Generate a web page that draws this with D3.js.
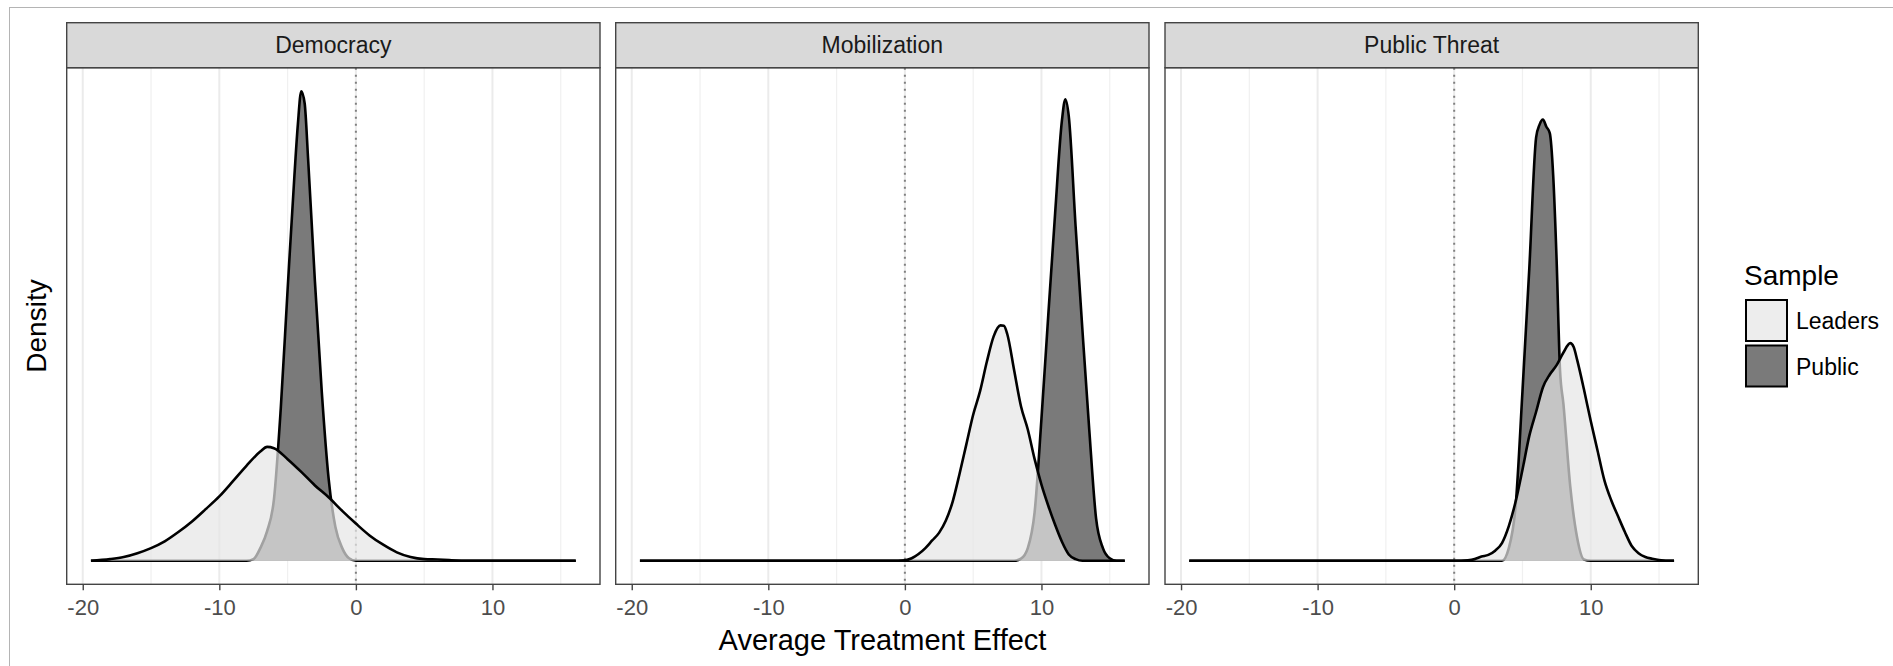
<!DOCTYPE html>
<html>
<head>
<meta charset="utf-8">
<script src="https://cdn.jsdelivr.net/npm/d3@7"></script>
<style>
  body { margin: 0; background: #fff; }
  svg { display: block; }
  text { font-family: "Liberation Sans", Arial, Helvetica, sans-serif; }
</style>
</head>
<body>
<svg id="chart" width="1893" height="666"></svg>
<script>
// facets, groups and axis ticks
const panels = ["Democracy", "Mobilization", "Public Threat"];
const samples = ["Leaders", "Public"];
const xTicks = [-20, -10, 0, 10];
const xMinorTicks = [-15, -5, 5, 15];
const xMin = -19.4, xMax = 16.1;

// density curves, [x, density]
const demLeaders = [[-19.4,0],[-18,0.0016],[-17,0.0036],[-16,0.0072],[-15,0.012],[-14,0.0184],[-13,0.0272],[-12,0.0372],
  [-11,0.0488],[-10,0.0608],[-9,0.0752],[-8,0.09],[-7,0.1032],[-6.5,0.1076],[-6,0.1064],[-5,0.096],[-4,0.084],[-3,0.0712],
  [-2,0.06],[-1,0.0472],[0,0.0352],[1,0.024],[2,0.0152],[3,0.008],[4,0.0036],[5,0.0016],[6,0.0012],[7,0.0006],[8,0],[16.1,0]];
const demPublic = [[-19.4,0],[-8,0],[-7.5,0.0016],[-7,0.012],[-6.5,0.028],[-6,0.058],[-5.5,0.144],[-5,0.256],[-4.5,0.364],
  [-4.25,0.412],[-4,0.4436],[-3.75,0.432],[-3.5,0.38],[-3,0.264],[-2.5,0.16],[-2,0.078],[-1.5,0.032],[-1,0.012],[-0.5,0.0024],
  [0,0],[16.1,0]];
const mobLeaders = [[-19.4,0],[-0.5,0],[0,0.0004],[0.5,0.0024],[1,0.0064],[1.5,0.012],[2,0.0192],[2.5,0.0264],[3,0.038],
  [3.5,0.056],[4,0.082],[4.5,0.11],[5,0.138],[5.5,0.16],[6,0.188],[6.5,0.212],[7,0.2224],[7.25,0.222],[7.5,0.214],[8,0.18],
  [8.5,0.146],[9,0.124],[9.5,0.096],[10,0.072],[10.5,0.052],[11,0.034],[11.5,0.018],[12,0.006],[12.5,0.0016],[13,0],[16.1,0]];
const mobPublic = [[-19.4,0],[8,0],[8.5,0.002],[9,0.012],[9.5,0.046],[10,0.134],[10.5,0.232],[11,0.328],[11.5,0.416],
  [11.75,0.436],[12,0.42],[12.5,0.316],[13,0.218],[13.5,0.124],[14,0.04],[14.5,0.012],[15,0.0024],[15.5,0],[16.1,0]];
const thrLeaders = [[-19.4,0],[0.5,0],[1,0.0004],[1.5,0.0016],[2,0.004],[2.5,0.0056],[3,0.0096],[3.5,0.0168],[4,0.0328],
  [4.5,0.056],[5,0.086],[5.5,0.118],[6,0.1408],[6.5,0.164],[7,0.176],[7.5,0.1848],[8,0.1968],[8.5,0.2056],[8.75,0.202],
  [9,0.19],[9.5,0.162],[10,0.132],[10.5,0.104],[11,0.076],[11.5,0.0572],[12,0.042],[12.5,0.0272],[13,0.014],[13.5,0.0072],
  [14,0.0036],[14.5,0.002],[15,0.0008],[16,0],[16.1,0]];
const thrPublic = [[-19.4,0],[3.5,0],[4,0.012],[4.5,0.052],[5,0.16],[5.5,0.276],[6,0.4],[6.25,0.412],[6.5,0.4168],
  [6.75,0.41],[7,0.404],[7.25,0.364],[7.5,0.284],[7.75,0.18],[8,0.148],[8.5,0.07],[9,0.022],[9.5,0.0012],[10,0],[16.1,0]];

const curves = {
  "Democracy": { Leaders: demLeaders, Public: demPublic },
  "Mobilization": { Leaders: mobLeaders, Public: mobPublic },
  "Public Threat": { Leaders: thrLeaders, Public: thrPublic }
};

const fills = { Leaders: "#e5e5e5", Public: "#7a7a7a" };
const fillOpacity = { Leaders: 0.7, Public: 1 };

// layout
const panelX = [66.7, 615.7, 1165];
const panelW = 533.3;
const stripTop = 22.7, panelTop = 67.7, panelBottom = 584.3;
const panelH = panelBottom - panelTop;

const svg = d3.select("#chart");

// thin frame around the picture
svg.append("rect")
  .attr("x", 9.5).attr("y", 7.5)
  .attr("width", 1900).attr("height", 700)
  .attr("fill", "none").attr("stroke", "#b4b4b4").attr("stroke-width", 1);

const pad = 0.05 * (xMax - xMin);
const x = d3.scaleLinear().domain([xMin - pad, xMax + pad]).range([0, panelW]);

const yMax = d3.max(panels, (p) => d3.max(samples, (s) => d3.max(curves[p][s], (d) => d[1])));
const y = d3.scaleLinear().domain([-0.05 * yMax, 1.05 * yMax]).range([panelH, 0]);

const area = d3.area()
  .x((d) => x(d[0]))
  .y0(y(0))
  .y1((d) => y(d[1]))
  .curve(d3.curveMonotoneX);

const line = d3.line()
  .x((d) => x(d[0]))
  .y((d) => y(d[1]))
  .curve(d3.curveMonotoneX);

panels.forEach((p, i) => {
  const g = svg.append("g").attr("transform", `translate(${panelX[i]},${panelTop})`);

  // grid
  g.selectAll(".minor")
    .data(xMinorTicks)
    .enter()
    .append("line")
    .attr("x1", (d) => x(d)).attr("x2", (d) => x(d))
    .attr("y1", 0).attr("y2", panelH)
    .attr("stroke", "#f0f0f0").attr("stroke-width", 1.2);

  g.selectAll(".major")
    .data(xTicks)
    .enter()
    .append("line")
    .attr("x1", (d) => x(d)).attr("x2", (d) => x(d))
    .attr("y1", 0).attr("y2", panelH)
    .attr("stroke", "#ebebeb").attr("stroke-width", 2);

  // reference line at zero
  g.append("line")
    .attr("x1", x(0)).attr("x2", x(0))
    .attr("y1", 0).attr("y2", panelH)
    .attr("stroke", "#808080").attr("stroke-width", 2)
    .attr("stroke-dasharray", "2,5");

  // densities, public first so leaders sit on top
  ["Public", "Leaders"].forEach((s) => {
    g.append("path")
      .attr("d", area(curves[p][s]))
      .attr("fill", fills[s])
      .attr("fill-opacity", fillOpacity[s]);
    g.append("path")
      .attr("d", line(curves[p][s]))
      .attr("fill", "none")
      .attr("stroke", "#000")
      .attr("stroke-width", 2.6)
      .attr("stroke-linejoin", "round");
  });

  // panel border
  g.append("rect")
    .attr("width", panelW).attr("height", panelH)
    .attr("fill", "none").attr("stroke", "#444").attr("stroke-width", 1.4);

  // strip
  svg.append("rect")
    .attr("x", panelX[i]).attr("y", stripTop)
    .attr("width", panelW).attr("height", panelTop - stripTop)
    .attr("fill", "#d9d9d9").attr("stroke", "#444").attr("stroke-width", 1.4);

  svg.append("text")
    .attr("x", panelX[i] + panelW / 2)
    .attr("y", (stripTop + panelTop) / 2)
    .attr("text-anchor", "middle")
    .attr("dominant-baseline", "central")
    .attr("font-size", 23)
    .attr("fill", "#1a1a1a")
    .text(p);

  // x axis
  const ax = g.append("g")
    .attr("transform", `translate(0,${panelH})`)
    .call(d3.axisBottom(x).tickValues(xTicks).tickFormat((d) => String(d)).tickSize(6).tickPadding(9));
  ax.select(".domain").remove();
  ax.selectAll(".tick line").attr("stroke", "#444").attr("stroke-width", 1.4);
  ax.selectAll(".tick text")
    .attr("font-size", 22)
    .attr("fill", "#4d4d4d")
    .style("font-family", '"Liberation Sans", Arial, sans-serif');
});

// axis titles
svg.append("text")
  .attr("x", (panelX[0] + panelX[2] + panelW) / 2)
  .attr("y", 650)
  .attr("text-anchor", "middle")
  .attr("font-size", 29)
  .attr("fill", "#000")
  .text("Average Treatment Effect");

svg.append("text")
  .attr("transform", `translate(46,${(panelTop + panelBottom) / 2}) rotate(-90)`)
  .attr("text-anchor", "middle")
  .attr("font-size", 28)
  .attr("fill", "#000")
  .text("Density");

// legend
const legend = svg.append("g").attr("transform", "translate(1744,0)");
legend.append("text")
  .attr("x", 0).attr("y", 285)
  .attr("font-size", 28)
  .attr("fill", "#000")
  .text("Sample");

const keyY = [300, 345.5];
samples.forEach((s, i) => {
  legend.append("rect")
    .attr("x", 2).attr("y", keyY[i])
    .attr("width", 41).attr("height", 41)
    .attr("fill", fills[s])
    .attr("fill-opacity", fillOpacity[s])
    .attr("stroke", "#000").attr("stroke-width", 2);
  legend.append("text")
    .attr("x", 52).attr("y", keyY[i] + 21)
    .attr("dominant-baseline", "central")
    .attr("font-size", 23)
    .attr("fill", "#000")
    .text(s);
});
</script>
</body>
</html>
